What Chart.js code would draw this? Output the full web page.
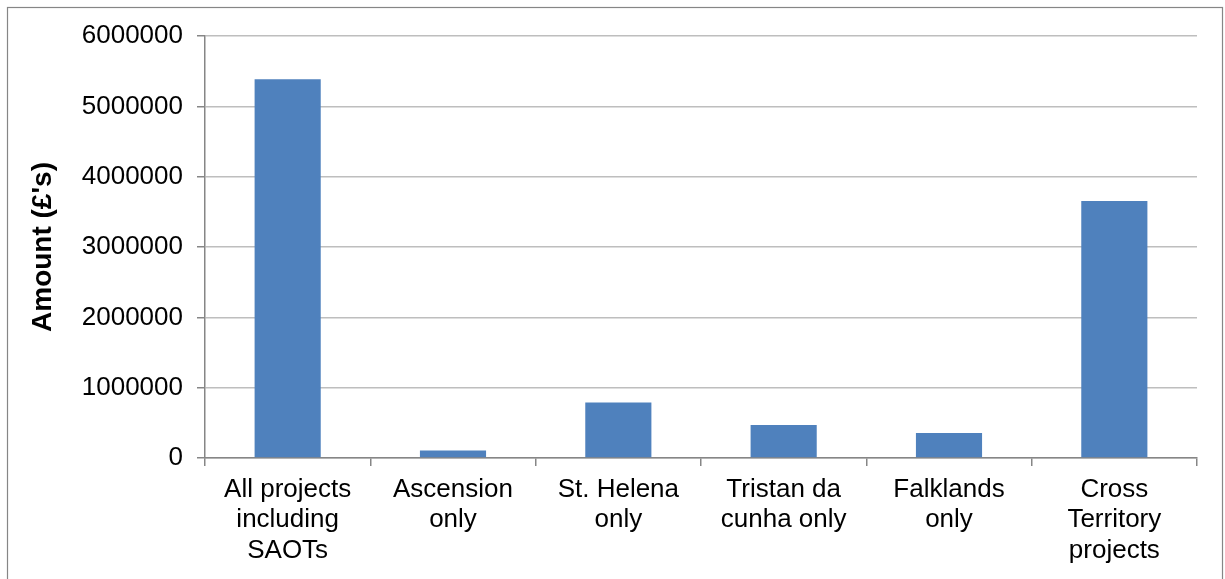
<!DOCTYPE html>
<html>
<head>
<meta charset="utf-8">
<script src="https://cdn.jsdelivr.net/npm/chart.js@4"></script>
<style>
html,body{margin:0;padding:0;background:#fff;}
#wrap{width:1225px;height:579px;}
</style>
</head>
<body>
<div id="wrap"><canvas id="c" width="1225" height="579"></canvas></div>
<script>
const categories = [
  ["All projects", "including", "SAOTs"],
  ["Ascension", "only"],
  ["St. Helena", "only"],
  ["Tristan da", "cunha only"],
  ["Falklands", "only"],
  ["Cross", "Territory", "projects"]
];
const amounts = [5385000, 105000, 790000, 470000, 355000, 3655000];
const yMax = 6000000;
const yStep = 1000000;
const yTitle = "Amount (£'s)";

const borderPlugin = {
  id: 'outerBorder',
  beforeDraw(chart) {
    const ctx = chart.ctx;
    ctx.save();
    ctx.fillStyle = '#ffffff';
    ctx.fillRect(0, 0, chart.width, chart.height);
    ctx.strokeStyle = '#868686';
    ctx.lineWidth = 1.2;
    ctx.strokeRect(7.5, 7.5, 1215, 700);
    ctx.restore();
  }
};

new Chart(document.getElementById('c'), {
  type: 'bar',
  data: {
    labels: categories,
    datasets: [{
      data: amounts,
      backgroundColor: '#4F81BD',
      borderWidth: 0,
      barPercentage: 0.4,
      categoryPercentage: 1.0
    }]
  },
  options: {
    responsive: false,
    animation: false,
    devicePixelRatio: 1,
    layout: { padding: { left: 10, top: 36, right: 28, bottom: 0 } },
    plugins: { legend: { display: false }, tooltip: { enabled: false } },
    scales: {
      y: {
        min: 0, max: yMax,
        ticks: {
          stepSize: yStep,
          color: '#000',
          padding: 14,
          font: { family: 'Liberation Sans, Arial, sans-serif', size: 26 },
          callback: v => String(v)
        },
        grid: { color: '#BEBEBE', lineWidth: 1.5, tickLength: 8, tickColor: '#868686' },
        border: { color: '#868686', width: 1.5 },
        title: {
          display: true, text: yTitle, color: '#000',
          font: { family: 'Liberation Sans, Arial, sans-serif', size: 28, weight: 'bold' },
          padding: { top: 16, bottom: 0 }
        },
        afterFit(s) { s.width = 195; }
      },
      x: {
        ticks: {
          color: '#000',
          padding: 9,
          maxRotation: 0,
          autoSkip: false,
          font: { family: 'Liberation Sans, Arial, sans-serif', size: 26, lineHeight: 1.16 }
        },
        grid: { display: true, drawOnChartArea: false, tickLength: 8, color: '#868686', lineWidth: 1.5, offset: true },
        border: { color: '#868686', width: 1.5 },
        afterFit(s) { s.height = 121; }
      }
    }
  },
  plugins: [borderPlugin]
});
</script>
</body>
</html>
